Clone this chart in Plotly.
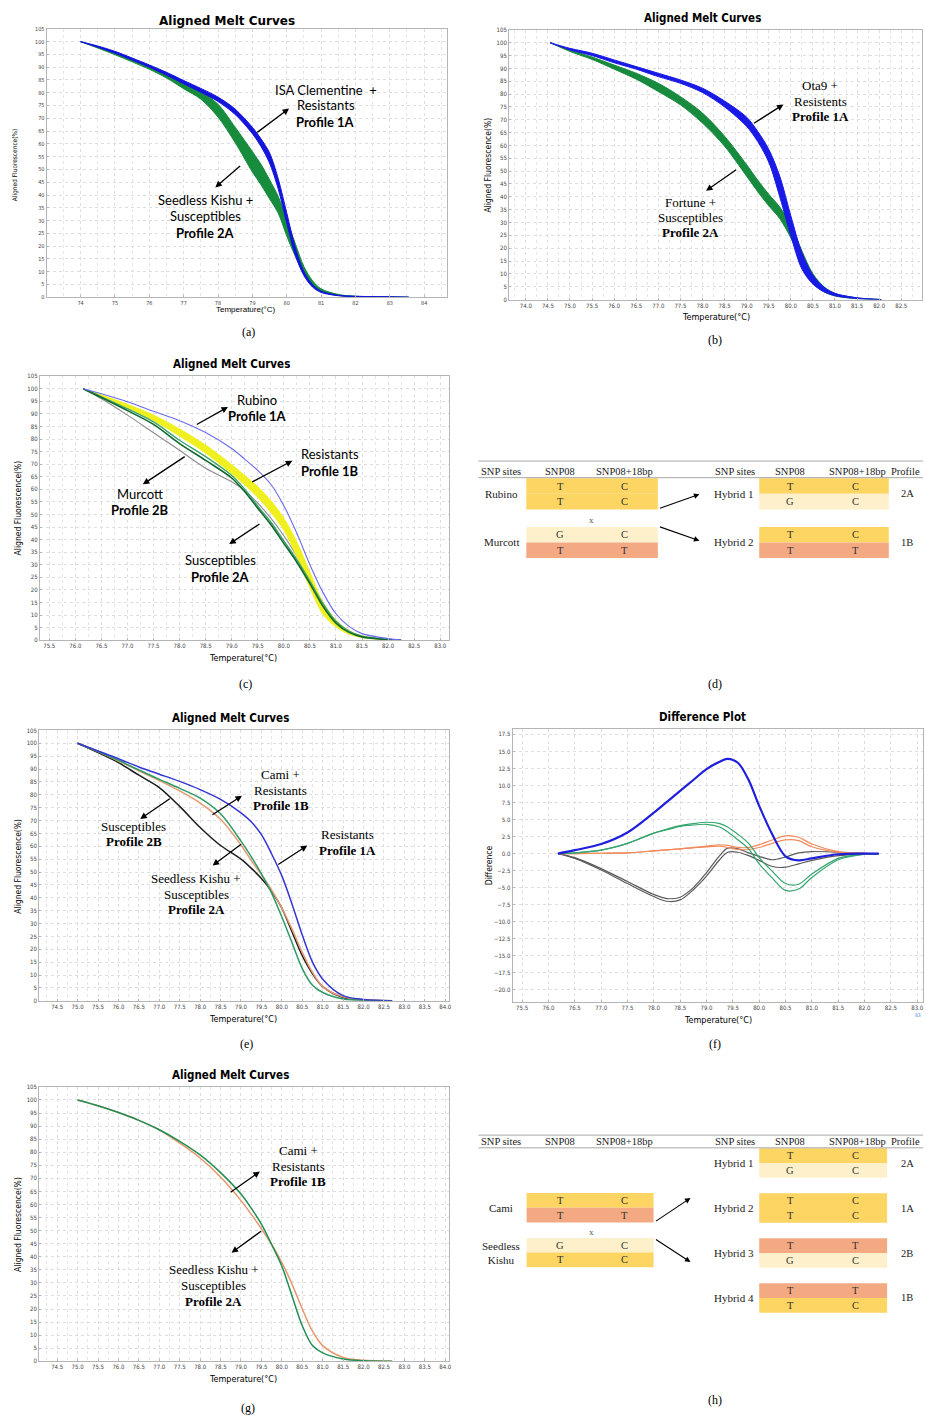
import plotly.graph_objects as go

W, H = 926, 1421
NARROW = "Liberation Sans Narrow, Arial Narrow, DejaVu Sans Condensed, Liberation Sans, Arial"
SANS = "Liberation Sans, Arial, sans-serif"
WIDE = "DejaVu Sans, Verdana, sans-serif"
CAL = "Lato, Carlito, Open Sans, sans-serif"
SERIF = "Liberation Serif, Times New Roman, serif"

# ---------------- data ----------------
# (a) ISA Clementine + Resistants (blue) / Seedless Kishu + Susceptibles (green): band edges
a_temp = [74.0, 74.5, 75.0, 75.5, 76.0, 76.5, 77.0, 77.5, 78.0, 78.5, 79.0, 79.25, 79.5, 79.75,
          80.0, 80.25, 80.5, 80.75, 81.0, 81.5, 82.0, 83.0, 83.55]
a_blue_hi = [100, 98.3, 96.2, 93.6, 90.9, 88.0, 84.8, 81.7, 78.3, 73.6, 66.5, 62.0, 56.5, 46.5,
             33.0, 19.5, 10.0, 5.0, 2.4, 0.8, 0.4, 0.15, 0]
a_blue_lo = [100, 97.8, 95.5, 92.8, 90.0, 86.9, 83.5, 80.2, 76.6, 71.5, 64.0, 59.0, 52.5, 42.5,
             29.0, 16.5, 8.5, 4.0, 1.9, 0.6, 0.3, 0.1, 0]
a_green_hi = [100, 98.0, 95.6, 93.0, 90.2, 87.2, 83.6, 80.5, 75.5, 66.5, 57.0, 52.0, 46.0, 39.5,
              30.5, 21.0, 12.0, 6.5, 3.3, 1.1, 0.4, 0.1, 0]
a_green_lo = [100, 97.5, 94.9, 92.1, 89.2, 85.8, 81.6, 77.5, 70.5, 60.5, 49.0, 44.0, 38.5, 33.0,
              24.0, 16.0, 9.0, 4.5, 2.2, 0.7, 0.2, 0.05, 0]

# (b) Ota9 + Resistents (blue) / Fortune + Susceptibles (green)
b_temp = [74.55, 75.0, 75.5, 76.0, 76.5, 77.0, 77.5, 78.0, 78.5, 79.0, 79.25, 79.5, 79.75, 80.0,
          80.25, 80.5, 80.75, 81.0, 81.5, 82.05]
b_blue_hi = [100, 97.8, 95.9, 93.3, 90.7, 88.1, 85.5, 82.3, 77.3, 71.0, 65.5, 58.5, 48.0, 32.6,
             18.3, 9.5, 4.8, 2.4, 0.7, 0]
b_blue_lo = [100, 97.2, 95.0, 92.2, 89.7, 86.8, 84.2, 80.6, 75.0, 67.4, 61.5, 53.5, 40.0, 24.8,
             11.9, 6.0, 3.0, 1.5, 0.4, 0]
b_green_hi = [100, 97.2, 94.4, 91.3, 88.1, 84.2, 79.0, 72.6, 63.6, 52.5, 46.5, 41.0, 36.0, 29.0,
              19.0, 10.0, 5.0, 2.4, 0.6, 0]
b_green_lo = [100, 96.6, 93.5, 89.7, 85.8, 81.0, 75.8, 68.7, 59.7, 48.0, 42.0, 36.5, 31.5, 24.0,
              14.5, 6.5, 3.0, 1.4, 0.3, 0]

# (c) Rubino (blue), Resistants (yellow band), Susceptibles (greens), Murcott (grey)
c_temp = [76.15, 76.5, 77.0, 77.5, 78.0, 78.5, 79.0, 79.25, 79.5, 79.75, 80.0, 80.25, 80.5,
          80.75, 81.0, 81.25, 81.5, 82.0, 82.25]
c_blue = [100, 98.0, 94.8, 91.0, 87.3, 82.6, 76.2, 72.0, 67.5, 62.0, 53.5, 42.5, 30.0, 19.0,
          10.5, 5.5, 2.6, 0.6, 0]
c_yellow_hi = [100, 97.5, 93.8, 89.5, 84.0, 77.6, 69.8, 65.5, 61.0, 55.5, 48.5, 39.0, 27.0,
               15.0, 8.0, 3.8, 1.7, 0.4, 0]
c_yellow_lo = [100, 96.9, 92.3, 87.3, 81.2, 74.4, 66.2, 61.8, 56.8, 50.8, 43.8, 33.3, 20.8,
               10.3, 5.3, 2.4, 1.0, 0.2, 0]
c_green_light = [100, 96.8, 92.0, 86.8, 79.5, 73.0, 65.5, 60.0, 53.3, 47.0, 39.5, 32.0, 23.5,
                 14.5, 7.5, 3.6, 1.6, 0.3, 0]
c_green_dark = [100, 96.5, 91.3, 85.8, 78.2, 71.5, 64.5, 59.0, 52.5, 46.0, 38.5, 31.0, 22.5,
                13.5, 6.8, 3.1, 1.3, 0.2, 0]
c_grey = [100, 96.0, 89.5, 82.5, 75.5, 68.4, 63.0, 59.5, 54.5, 48.5, 41.5, 33.5, 24.5, 15.0,
          7.5, 3.4, 1.4, 0.3, 0]

# (e) Resistants (blue), Seedless Kishu + Susceptibles (green), Cami + Resistants (orange), Susceptibles 2B (black)
e_temp = [75.0, 75.5, 76.0, 76.5, 77.0, 77.5, 78.0, 78.5, 79.0, 79.25, 79.5, 79.75, 80.0, 80.25,
          80.5, 80.75, 81.0, 81.5, 82.0, 82.7]
e_blue = [100, 97.0, 94.0, 90.8, 88.0, 85.2, 82.0, 78.2, 73.0, 69.5, 64.5, 57.0, 48.5, 37.5,
          25.5, 15.0, 8.4, 2.0, 0.5, 0]
e_green = [100, 96.8, 93.4, 89.6, 86.0, 82.5, 78.7, 72.6, 62.0, 56.0, 49.3, 41.8, 32.5, 22.5,
           12.5, 6.0, 3.2, 0.7, 0.2, 0]
e_orange = [100, 96.8, 93.2, 89.3, 85.5, 81.5, 76.8, 70.5, 60.5, 54.5, 49.0, 43.0, 36.0, 27.8,
            18.8, 11.0, 5.5, 1.5, 0.4, 0]
e_black = [100, 96.4, 92.5, 87.6, 82.8, 75.5, 67.3, 60.3, 55.0, 51.5, 47.5, 42.5, 36.0, 26.7,
           17.5, 10.5, 5.5, 1.3, 0.3, 0]

# (f) Difference plot (two replicate lines per group)
f_temp = [76.18, 76.5, 77.0, 77.5, 78.0, 78.25, 78.5, 78.75, 79.0, 79.25, 79.4, 79.6, 79.8, 80.0,
          80.25, 80.5, 80.75, 81.0, 81.5, 82.0, 82.27]
f_blue = [0, 0.5, 1.4, 3.1, 6.0, 7.6, 9.2, 10.8, 12.4, 13.5, 13.9, 13.3, 10.8, 7.0, 2.8, -0.4,
          -1.0, -0.7, -0.1, 0, 0]
f_green_1 = [0, 0.1, 0.5, 1.5, 3.0, 3.6, 4.1, 4.4, 4.6, 4.4, 3.9, 2.8, 1.5, -0.6, -2.6, -4.4,
             -4.5, -3.0, -0.7, -0.05, 0]
f_green_2 = [0, 0.1, 0.5, 1.5, 3.0, 3.5, 4.0, 4.2, 4.3, 3.9, 3.2, 2.0, 0.7, -1.5, -3.6, -5.4,
             -5.2, -3.5, -0.9, -0.1, 0]
f_orange_1 = [0, 0, 0.05, 0.1, 0.4, 0.55, 0.7, 0.9, 1.1, 1.3, 1.2, 0.9, 0.9, 1.3, 2.0, 2.6, 2.4,
              1.4, 0.3, 0.05, 0]
f_orange_2 = [0, 0, 0.05, 0.1, 0.4, 0.55, 0.7, 0.85, 1.0, 1.1, 0.9, 0.6, 0.6, 0.9, 1.5, 2.0, 1.9,
              1.0, 0.2, 0.05, 0]
f_grey_1 = [0, -0.6, -2.2, -4.1, -6.0, -6.6, -6.4, -5.0, -2.8, -0.3, 0.8, 0.7, 0.1, -0.4, -0.9,
            -0.5, 0.1, 0.3, 0.2, 0.05, 0]
f_grey_2 = [0, -0.7, -2.4, -4.4, -6.3, -7.0, -6.8, -5.3, -3.3, -0.9, 0.2, 0.2, -0.3, -1.0, -1.9,
            -2.0, -1.5, -1.0, -0.3, -0.05, 0]

# (g) Cami + Resistants (green) / Seedless Kishu + Susceptibles (orange)
g_temp = [75.0, 75.5, 76.0, 76.5, 77.0, 77.5, 78.0, 78.5, 79.0, 79.25, 79.5, 79.75, 80.0, 80.25,
          80.5, 80.75, 81.0, 81.5, 82.0, 82.7]
g_green = [100, 97.8, 95.2, 92.2, 88.6, 84.2, 79.0, 72.2, 64.0, 58.6, 52.5, 44.7, 36.4, 25.0,
           13.6, 6.0, 3.2, 0.9, 0.2, 0]
g_orange = [100, 97.8, 95.2, 92.2, 88.6, 83.5, 77.8, 70.5, 61.5, 56.3, 50.7, 44.7, 37.8, 29.5,
            20.0, 11.5, 6.0, 1.5, 0.4, 0]

# (d) genotype table
d_headers = ["SNP sites", "SNP08", "SNP08+18bp"]
d_parents = ["Rubino", "Murcott"]
d_parent_snp08 = [["T", "T"], ["G", "T"]]
d_parent_snp18 = [["C", "C"], ["C", "T"]]
d_hybrids = ["Hybrid 1", "Hybrid 2"]
d_hybrid_snp08 = [["T", "G"], ["T", "T"]]
d_hybrid_snp18 = [["C", "C"], ["C", "T"]]
d_profiles = ["2A", "1B"]

# (h) genotype table
h_parents = ["Cami", "Seedless<br>Kishu"]
h_parent_snp08 = [["T", "T"], ["G", "T"]]
h_parent_snp18 = [["C", "T"], ["C", "C"]]
h_hybrids = ["Hybrid 1", "Hybrid 2", "Hybrid 3", "Hybrid 4"]
h_hybrid_snp08 = [["T", "G"], ["T", "T"], ["T", "G"], ["T", "T"]]
h_hybrid_snp18 = [["C", "C"], ["C", "C"], ["T", "C"], ["T", "C"]]
h_profiles = ["2A", "1A", "2B", "1B"]

HAP_COLORS = {"TC": "#FDD562", "GC": "#FEF0CA", "TT": "#F3AA82"}

# ---------------- helpers ----------------
def X(p):
    return p / W


def Y(p):
    return 1 - p / H


fig = go.Figure()
annotations = []
shapes = []


def setup_axes(n, xpx, ypx, xr, yr, xdtick, xtick0, xminor, ydtick, xfmt="", yfmt="",
               xminor_on=True, tsize=6):
    sx = "" if n == 1 else str(n)
    grid = dict(showgrid=True, gridcolor="#dedede", griddash="dot", gridwidth=1)
    common = dict(showline=True, linecolor="#b5b5b5", linewidth=1, mirror=True, ticks="inside",
                  ticklen=2, tickcolor="#b5b5b5", zeroline=False, fixedrange=True,
                  tickfont=dict(family=NARROW, size=tsize, color="#444"), **grid)
    xa = dict(domain=[X(xpx[0]), X(xpx[1])], range=list(xr), anchor="y" + sx, dtick=xdtick,
              tick0=xtick0, tickformat=xfmt, **common)
    if xminor_on:
        xa["minor"] = dict(dtick=xminor, showgrid=True, gridcolor="#e6e6e6", griddash="dot")
    ya = dict(domain=[Y(ypx[1]), Y(ypx[0])], range=list(yr), anchor="x" + sx, dtick=ydtick,
              tick0=0, tickformat=yfmt, **common)
    fig.layout["xaxis" + sx] = xa
    fig.layout["yaxis" + sx] = ya
    return "x" + sx, "y" + sx


SPL = dict(shape="spline", smoothing=0.9)


def line(ax, t, v, color, width=1.3):
    fig.add_trace(go.Scatter(x=t, y=v, mode="lines", line=dict(color=color, width=width, **SPL),
                             xaxis=ax[0], yaxis=ax[1], showlegend=False, hoverinfo="skip"))


def band(ax, t, lo, hi, color):
    fig.add_trace(go.Scatter(x=t, y=lo, mode="lines", line=dict(color=color, width=1, **SPL),
                             xaxis=ax[0], yaxis=ax[1], showlegend=False, hoverinfo="skip"))
    fig.add_trace(go.Scatter(x=t, y=hi, mode="lines", line=dict(color=color, width=1, **SPL),
                             fill="tonexty", fillcolor=color,
                             xaxis=ax[0], yaxis=ax[1], showlegend=False, hoverinfo="skip"))


def text(x, y, s, size=12, family=CAL, color="black", xanchor="center", angle=0):
    annotations.append(dict(x=X(x), y=Y(y), xref="paper", yref="paper", text=s, showarrow=False,
                            font=dict(family=family, size=size, color=color), xanchor=xanchor,
                            yanchor="middle", textangle=angle))


def arrow(tx, ty, hx, hy, width=1.3):
    annotations.append(dict(x=X(hx), y=Y(hy), xref="paper", yref="paper", ax=tx - hx, ay=ty - hy,
                            axref="pixel", ayref="pixel", text="", showarrow=True, arrowhead=2,
                            arrowsize=1, arrowwidth=width, arrowcolor="black", standoff=0,
                            startstandoff=0))


def hline(x0, x1, y, color="#9a9a9a", w=1):
    shapes.append(dict(type="line", xref="paper", yref="paper", x0=X(x0), x1=X(x1), y0=Y(y), y1=Y(y),
                       line=dict(color=color, width=w)))


def rect(x0, x1, y0, y1, color):
    shapes.append(dict(type="rect", xref="paper", yref="paper", x0=X(x0), x1=X(x1), y0=Y(y1), y1=Y(y0),
                       fillcolor=color, line=dict(width=0), layer="below"))


TITLE_SIZE = 11.5

# ---------------- (a) ----------------
axa = setup_axes(1, (46.7, 448.3), (25, 294.7), (73.01, 84.66), (0, 105), 1, 74, 0.5, 5, tsize=5.5)
band(axa, a_temp, a_green_lo, a_green_hi, "#178c3c")
band(axa, a_temp, a_blue_lo, a_blue_hi, "#1414dc")
text(228, 17, "<b>Aligned Melt Curves</b>", 12, WIDE)
text(247, 307, "Temperature(°C)", 8, SANS)
text(15, 162, "Aligned Fluorescence(%)", 6.5, NARROW, angle=-90)
text(327, 86, "ISA Clementine  +", 13)
text(327, 102, "Resistants", 13)
text(327, 119, "<b>Profile 1A</b>", 13)
arrow(256.7, 130, 290, 105)
text(206, 197, "Seedless Kishu +", 13)
text(206, 213, "Susceptibles", 13)
text(206, 230, "<b>Profile 2A</b>", 13)
arrow(242.3, 161.7, 216, 184.3)
text(249, 330, "(a)", 12, SERIF)

# ---------------- (b) ----------------
axb = setup_axes(2, (510.7, 925), (26, 297), (73.62, 82.97), (0, 105), 0.5, 74, 0.25, 5, ".1f")
band(axb, b_temp, b_green_lo, b_green_hi, "#178a3e")
band(axb, b_temp, b_blue_lo, b_blue_hi, "#1a1ae6")
text(705, 14, "<b>Aligned Melt Curves</b>", TITLE_SIZE, NARROW)
text(718, 315, "Temperature(°C)", 9, NARROW)
text(490, 162, "Aligned Fluorescence(%)", 8.5, NARROW, angle=-90)
text(823, 82, "Ota9 +", 13, SERIF)
text(823, 97.5, "Resistents", 13, SERIF)
text(823, 113, "<b>Profile 1A</b>", 13, SERIF)
arrow(755, 120.7, 786, 101)
text(692.7, 199.5, "Fortune +", 13, SERIF)
text(692.7, 214.7, "Susceptibles", 13, SERIF)
text(692.7, 230, "<b>Profile 2A</b>", 13, SERIF)
arrow(740, 165.7, 708.3, 187.7)
text(717, 338, "(b)", 12, SERIF)

# ---------------- (c) ----------------
axc = setup_axes(3, (40, 450), (374, 639.3), (75.32, 83.16), (0, 105), 0.5, 75.5, 0.25, 5, ".1f")
line(axc, c_temp, c_grey, "#8c8c8c", 1.1)
band(axc, c_temp, c_yellow_lo, c_yellow_hi, "#f0f020")
line(axc, c_temp, c_green_light, "#3ea36f", 1.4)
line(axc, c_temp, c_green_dark, "#12692f", 1.6)
line(axc, c_temp, c_blue, "#6a6af0", 1.1)
text(232, 362, "<b>Aligned Melt Curves</b>", TITLE_SIZE, NARROW)
text(244, 657, "Temperature(°C)", 9, NARROW)
text(18, 506, "Aligned Fluorescence(%)", 8.5, NARROW, angle=-90)
text(258, 398, "Rubino", 13)
text(258, 414.5, "<b>Profile 1A</b>", 13)
arrow(196, 423.3, 228.7, 405)
text(330.7, 452.3, "Resistants", 13)
text(330.7, 469, "<b>Profile 1B</b>", 13)
arrow(251.7, 481, 293.3, 459)
text(140, 492.3, "Murcott", 13)
text(140, 509, "<b>Profile 2B</b>", 13)
arrow(186.7, 454, 143.3, 482.7)
text(221.7, 558.3, "Susceptibles", 13)
text(221.7, 575.7, "<b>Profile 2A</b>", 13)
arrow(261.7, 521.7, 230, 542.7)
text(246, 683, "(c)", 12, SERIF)

# ---------------- (e) ----------------
axe = setup_axes(4, (39.3, 450), (730, 1001.7), (74.06, 84.08), (0, 105), 0.5, 74.5, 0.25, 5, ".1f")
line(axe, e_temp, e_black, "#1e1e1e", 1.5)
line(axe, e_temp, e_orange, "#e69a70", 1.5)
line(axe, e_temp, e_green, "#2e9a66", 1.5)
line(axe, e_temp, e_blue, "#3535d2", 1.5)
text(231, 718, "<b>Aligned Melt Curves</b>", TITLE_SIZE, NARROW)
text(244, 1020, "Temperature(°C)", 9, NARROW)
text(18, 866, "Aligned Fluorescence(%)", 8.5, NARROW, angle=-90)
text(281.7, 774.5, "Cami +", 13, SERIF)
text(281.7, 790, "Resistants", 13, SERIF)
text(281.7, 805, "<b>Profile 1B</b>", 13, SERIF)
arrow(211.7, 815.7, 242.7, 795.7)
text(348.3, 835, "Resistants", 13, SERIF)
text(348.3, 851, "<b>Profile 1A</b>", 13, SERIF)
arrow(277.7, 865.7, 308.3, 845.7)
text(134.3, 826.7, "Susceptibles", 13, SERIF)
text(134.3, 842, "<b>Profile 2B</b>", 13, SERIF)
arrow(171.7, 797.7, 140.7, 819)
text(196.7, 879, "Seedless Kishu +", 13, SERIF)
text(196.7, 894.5, "Susceptibles", 13, SERIF)
text(196.7, 909.5, "<b>Profile 2A</b>", 13, SERIF)
arrow(243.3, 843.3, 213.3, 865.7)
text(247, 1045, "(e)", 12, SERIF)

# ---------------- (f) ----------------
axf = setup_axes(5, (514.3, 926), (729, 1002.7), (75.32, 83.11), (-21.75, 18.23), 0.5, 75.5, 0.25, 2.5,
                 ".1f", ".1f", xminor_on=False)
line(axf, f_temp, f_grey_1, "#5a5a5a", 1.2)
line(axf, f_temp, f_grey_2, "#5a5a5a", 1.2)
line(axf, f_temp, f_orange_1, "#f08a5c", 1.2)
line(axf, f_temp, f_orange_2, "#f08a5c", 1.2)
line(axf, f_temp, f_green_1, "#35a56e", 1.2)
line(axf, f_temp, f_green_2, "#35a56e", 1.2)
line(axf, f_temp, f_blue, "#2020dc", 2.2)
text(705, 717, "<b>Difference Plot</b>", TITLE_SIZE, NARROW)
text(720, 1021, "Temperature(°C)", 9, NARROW)
text(490, 865, "Difference", 8.5, NARROW, angle=-90)
text(921, 1016, "83", 5, NARROW, color="#4a8fd8")
text(717, 1045, "(f)", 12, SERIF)

# ---------------- (g) ----------------
axg = setup_axes(6, (39.3, 450), (1088.3, 1364), (74.06, 84.08), (0, 105), 0.5, 74.5, 0.25, 5, ".1f")
line(axg, g_temp, g_orange, "#e8956a", 1.5)
line(axg, g_temp, g_green, "#1f8f55", 1.5)
text(231, 1076, "<b>Aligned Melt Curves</b>", TITLE_SIZE, NARROW)
text(244, 1382, "Temperature(°C)", 9, NARROW)
text(18, 1226, "Aligned Fluorescence(%)", 8.5, NARROW, angle=-90)
text(299.3, 1152.3, "Cami +", 13, SERIF)
text(299.3, 1168, "Resistants", 13, SERIF)
text(299.3, 1183.5, "<b>Profile 1B</b>", 13, SERIF)
arrow(230, 1195, 260.7, 1173.3)
text(214.3, 1272, "Seedless Kishu +", 13, SERIF)
text(214.3, 1288, "Susceptibles", 13, SERIF)
text(214.3, 1304, "<b>Profile 2A</b>", 13, SERIF)
arrow(263.3, 1232.3, 232.3, 1255)
text(249, 1411, "(g)", 12, SERIF)


# ---------------- tables ----------------
def table(top_rule, head_y, head_rule, p_names, p_s08, p_s18, p_tops, h_names, h_s08, h_s18, h_tops,
          profiles, rh, px0, px1, hx0, hx1, cross_y, arrows, size=10.5):
    hline(480, 926, top_rule, "#a8a8a8", 1)
    hline(480, 926, head_rule, "#a8a8a8", 1)
    pc = [503, 562, 627]
    hc = [737, 793, 860]
    for i, lab in enumerate(d_headers):
        text(pc[i], head_y, lab, size, SERIF, "#222")
        text(hc[i], head_y, lab, size, SERIF, "#222")
    text(925, head_y, "Profile", size, SERIF, "#222", xanchor="right")
    for i, name in enumerate(p_names):
        t0 = p_tops[i]
        for r in range(2):
            rect(px0, px1, t0 + r * rh, t0 + (r + 1) * rh, HAP_COLORS[p_s08[i][r] + p_s18[i][r]])
            text(562, t0 + (r + 0.5) * rh, p_s08[i][r], size, SERIF, "#333")
            text(627, t0 + (r + 0.5) * rh, p_s18[i][r], size, SERIF, "#333")
        text(503, t0 + rh, name, size + 0.5, SERIF, "#222")
    for i, name in enumerate(h_names):
        t0 = h_tops[i]
        for r in range(2):
            rect(hx0, hx1, t0 + r * rh, t0 + (r + 1) * rh, HAP_COLORS[h_s08[i][r] + h_s18[i][r]])
            text(793, t0 + (r + 0.5) * rh, h_s08[i][r], size, SERIF, "#333")
            text(858, t0 + (r + 0.5) * rh, h_s18[i][r], size, SERIF, "#333")
        text(736, t0 + rh, name, size + 0.5, SERIF, "#222")
        text(910, t0 + rh, profiles[i], size, SERIF, "#222")
    text(593, cross_y, "x", 9, SERIF, "#555")
    for (tx, ty, hx, hy) in arrows:
        arrow(tx, ty, hx, hy, 1.1)


table(459.3, 469.5, 476.0, d_parents, d_parent_snp08, d_parent_snp18, [476.7, 525.5],
      d_hybrids, d_hybrid_snp08, d_hybrid_snp18, [476.7, 525.5], d_profiles, 15.6,
      528, 660, 761.7, 891.7, 519,
      [(660.7, 507.3, 701.7, 492.7), (660.7, 525, 701.7, 539.3)])
text(717, 683, "(d)", 12, SERIF)

table(1136.7, 1143, 1149.5, h_parents, h_parent_snp08, h_parent_snp18, [1195, 1240],
      h_hybrids, h_hybrid_snp08, h_hybrid_snp18, [1150, 1195.2, 1240.4, 1285.6], h_profiles, 14.8,
      528.3, 655.7, 761.7, 890, 1234.3,
      [(656.7, 1224, 692.7, 1200), (656.7, 1240.7, 692.7, 1264.3)])
text(717, 1403, "(h)", 12, SERIF)

fig.update_layout(width=W, height=H, margin=dict(l=0, r=0, t=0, b=0), paper_bgcolor="white",
                  plot_bgcolor="white", showlegend=False, annotations=annotations, shapes=shapes)
fig.write_html("out.html")
